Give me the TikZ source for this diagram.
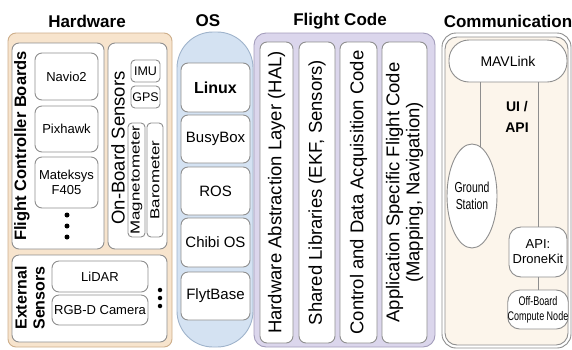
\documentclass[tikz,border=0pt]{standalone}
\usepackage{fontspec}
\setmainfont{Liberation Sans}
\newfontfamily\narrowfont{Liberation Sans}[FakeStretch=0.72]
\newfontfamily\tallfont{Liberation Sans}[FakeStretch=1.3]
\usetikzlibrary{shapes.geometric}

\definecolor{hwfill}{HTML}{F7E4CD}
\definecolor{hwline}{HTML}{CDAE8A}
\definecolor{osfill}{HTML}{D4E2F2}
\definecolor{osline}{HTML}{9FB3CB}
\definecolor{fcfill}{HTML}{DBD6EC}
\definecolor{fcline}{HTML}{A39DBB}
\definecolor{cmfill}{HTML}{FCF5EB}
\definecolor{boxline}{HTML}{8E8E8E}

\begin{document}
\begin{tikzpicture}[x=1pt, y=-1pt, line width=0.9pt,
  every node/.style={inner sep=0pt, align=center},
  title/.style={font=\fontsize{17}{20}\selectfont\bfseries},
  box/.style={draw=boxline, fill=white, rounded corners=7pt},
  txt/.style={font=\fontsize{13}{15}\selectfont},
  dot/.style={circle, fill=black, minimum size=5pt}]
  \useasboundingbox (0,0) rectangle (572,349);

  % Titles
  \node[title] (hwTitle) at (87,21) {Hardware};
  \node[title] (osTitle) at (208,21) {OS};
  \node[title] (fcTitle) at (340,21) {Flight Code};
  \node[title] (cmTitle) at (508,21) {Communication};

  % Hardware
  \node[draw=hwline, fill=hwfill, rounded corners=8pt, minimum width=164pt, minimum height=314pt] (hw) at (90,190) {};

  \node[box, minimum width=92pt, minimum height=206pt] (fcb) at (58,146) {};
  \node[rotate=90, font=\fontsize{16.5}{19}\selectfont\bfseries] (fcbLabel) at (22,146) {Flight Controller Boards};
  \node[box, txt, minimum width=63pt, minimum height=47pt] (navio) at (66.5,76.5) {Navio2};
  \node[box, txt, minimum width=63pt, minimum height=46pt] (pixhawk) at (66.5,129) {Pixhawk};
  \node[box, txt, minimum width=63pt, minimum height=51pt] (mateksys) at (66.5,182.5) {Mateksys\\F405};
  \node[dot] (fcbDot1) at (67,215) {};
  \node[dot] (fcbDot2) at (67,226) {};
  \node[dot] (fcbDot3) at (67,237) {};

  \node[box, minimum width=59pt, minimum height=206pt] (onboard) at (137.5,146) {};
  \node[rotate=90, font=\fontsize{18.5}{20}\selectfont] (onboardLabel) at (118,148) {On-Board Sensors};
  \node[box, rounded corners=4pt, font=\fontsize{12.5}{14}\selectfont, minimum width=29pt, minimum height=22pt] (imu) at (145.5,71) {IMU};
  \node[box, rounded corners=4pt, font=\fontsize{12.5}{14}\selectfont, minimum width=29pt, minimum height=22pt] (gps) at (145.5,97) {GPS};
  \node[box, rounded corners=4pt, rotate=90, font=\tallfont\fontsize{13}{14}\selectfont, minimum width=114pt, minimum height=17pt] (magneto) at (136.5,180) {Magnetometer};
  \node[box, rounded corners=4pt, rotate=90, font=\tallfont\fontsize{13}{14}\selectfont, minimum width=114pt, minimum height=16pt] (baro) at (155,180) {Barometer};

  \node[box, minimum width=155pt, minimum height=87pt] (external) at (89.5,298.5) {};
  \node[rotate=90, font=\fontsize{16}{18}\selectfont\bfseries] (externalLabel) at (30,298) {External\\Sensors};
  \node[box, txt, minimum width=96pt, minimum height=31pt] (lidar) at (100,276.5) {LiDAR};
  \node[box, txt, minimum width=96pt, minimum height=30pt] (rgbd) at (100,310) {RGB-D Camera};
  \node[dot, minimum size=4.5pt] (extDot1) at (160,290) {};
  \node[dot, minimum size=4.5pt] (extDot2) at (160,298) {};
  \node[dot, minimum size=4.5pt] (extDot3) at (160,306) {};

  % OS
  \node[draw=osline, fill=osfill, rounded corners=36pt, minimum width=76pt, minimum height=315pt] (os) at (215,189.5) {};
  \node[box, font=\fontsize{16}{18}\selectfont\bfseries, minimum width=69pt, minimum height=49pt] (linux) at (215.5,87.5) {Linux};
  \node[box, font=\fontsize{15}{17}\selectfont, minimum width=69pt, minimum height=48pt] (busybox) at (215.5,139) {BusyBox};
  \node[box, font=\fontsize{15}{17}\selectfont, minimum width=69pt, minimum height=48pt] (ros) at (215.5,191) {ROS};
  \node[box, font=\fontsize{15}{17}\selectfont, minimum width=69pt, minimum height=49pt] (chibi) at (215.5,242.5) {Chibi OS};
  \node[box, font=\fontsize{15}{17}\selectfont, minimum width=69pt, minimum height=48pt] (flytbase) at (215.5,296) {FlytBase};

  % Flight Code
  \node[draw=fcline, fill=fcfill, rounded corners=12pt, minimum width=181pt, minimum height=314pt] (fc) at (344.5,190) {};
  \node[box, rotate=90, font=\fontsize{18.5}{21}\selectfont, minimum width=301pt, minimum height=33pt] (hal) at (276.5,192.5) {Hardware Abstraction Layer (HAL)};
  \node[box, rotate=90, font=\fontsize{18.5}{21}\selectfont, minimum width=301pt, minimum height=36pt] (shared) at (317,192.5) {Shared Libraries (EKF, Sensors)};
  \node[box, rotate=90, font=\fontsize{18.5}{21}\selectfont, minimum width=301pt, minimum height=37pt] (control) at (358.5,192.5) {Control and Data Acquisition Code};
  \node[box, rotate=90, font=\fontsize{18.5}{20}\selectfont, minimum width=301pt, minimum height=45pt] (appcode) at (404.5,192.5) {Application Specific Flight Code\\(Mapping, Navigation)};

  % Communication
  \node[draw=boxline, fill=white, rounded corners=14pt, minimum width=129pt, minimum height=315pt] (cmOuter) at (506.5,190.5) {};
  \node[draw=boxline, fill=cmfill, rounded corners=12pt, minimum width=123pt, minimum height=308pt] (cm) at (506.5,191) {};
  \node[box, rounded corners=20pt, font=\fontsize{14}{16}\selectfont, minimum width=118pt, minimum height=42pt] (mavlink) at (508,61) {MAVLink};
  \node[draw=boxline, fill=white, ellipse, font=\narrowfont\fontsize{14.5}{17}\selectfont, minimum width=50pt, minimum height=104pt] (ground) at (472,196) {Ground\\Station};
  \node[font=\fontsize{14}{21}\selectfont\bfseries] (uiapi) at (517,117) {UI /\\API};
  \node[box, rounded corners=12pt, txt, minimum width=58pt, minimum height=50pt] (dronekit) at (538,252) {API:\\DroneKit};
  \node[box, rounded corners=12pt, font=\narrowfont\fontsize{12.5}{15}\selectfont, minimum width=60pt, minimum height=39pt] (offboard) at (538,309.5) {Off-Board\\Compute Node};

  % Links
  \draw[boxline] (ground.80) -- (ground.80 |- mavlink.south);
  \draw[boxline] (dronekit.north) -- (dronekit.north |- mavlink.south);
  \draw[boxline] (dronekit) -- (offboard);
\end{tikzpicture}
\end{document}
